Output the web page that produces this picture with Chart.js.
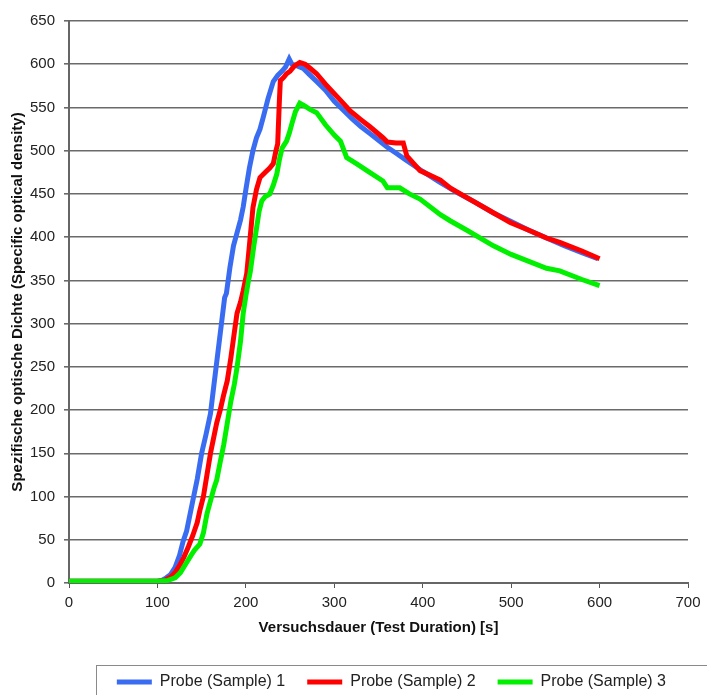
<!DOCTYPE html>
<html>
<head>
<meta charset="utf-8">
<script src="https://cdn.jsdelivr.net/npm/chart.js@4/dist/chart.umd.min.js"></script>
<style>
  html, body { margin: 0; padding: 0; background: #fff; }
  #wrap { width: 707px; height: 695px; }
</style>
</head>
<body>
<div id="wrap"><canvas id="Chart" width="707" height="695"></canvas></div>
<script>
// series labels
var seriesNames = ['Probe (Sample) 1', 'Probe (Sample) 2', 'Probe (Sample) 3'];

// Probe 1 (blue)
var time1 = [0, 50, 100, 105, 110, 115, 120, 125, 129, 133, 140, 145, 150, 155, 160, 164, 167, 170, 173, 176, 178, 182, 186, 190, 194, 197, 200, 204, 208, 212, 216, 220, 225, 231, 236, 241, 245, 249, 252, 258, 265, 272, 280, 290, 300, 310, 320, 330, 340, 350, 360, 370, 380, 400, 420, 440, 460, 480, 500, 520, 540, 560, 580, 598];
var value1 = [2, 2, 2, 3, 6, 10, 18, 32, 48, 60, 95, 120, 150, 172, 196, 230, 255, 280, 305, 330, 335, 365, 390, 405, 420, 435, 455, 480, 500, 515, 525, 540, 560, 580, 587, 592, 597, 606, 600, 598, 595, 588, 580, 570, 557, 547, 537, 528, 520, 512, 504, 497, 490, 476, 463, 451, 440, 428, 418, 408, 399, 390, 382, 375];

// Probe 2 (red)
var time2 = [0, 100, 108, 115, 120, 125, 130, 135, 140, 145, 148, 152, 156, 160, 164, 167, 171, 175, 179, 183, 187, 190, 194, 197, 201, 204, 208, 212, 216, 222, 227, 231, 234, 236, 238, 239, 243, 246, 250, 255, 261, 267, 273, 280, 290, 300, 310, 318, 330, 340, 355, 360, 370, 378, 382, 397, 420, 431, 446, 470, 499, 520, 540, 555, 580, 600];
var value2 = [2, 2, 3, 7, 12, 20, 30, 42, 55, 70, 84, 100, 125, 150, 170, 185, 200, 218, 234, 260, 290, 312, 325, 338, 358, 390, 434, 455, 469, 475, 480, 485, 500, 508, 560, 581, 585, 589, 592, 598, 602, 600, 595, 589, 577, 566, 555, 546, 536, 528, 515, 510, 509, 509, 494, 477, 466, 457, 448, 434, 417, 408, 399, 394, 384, 375];

// Probe 3 (green)
var time3 = [0, 100, 112, 120, 126, 132, 138, 142, 148, 152, 156, 160, 164, 167, 171, 175, 179, 183, 187, 190, 194, 197, 200, 203, 205, 209, 212, 215, 218, 222, 227, 231, 235, 238, 241, 246, 249, 252, 256, 261, 266, 272, 280, 290, 300, 307, 310, 314, 325, 340, 355, 360, 374, 385, 397, 420, 431, 450, 480, 500, 520, 540, 555, 580, 600];
var value3 = [2, 2, 3, 6, 12, 22, 32, 38, 45, 58, 80, 95, 110, 119, 140, 160, 185, 210, 230, 249, 280, 312, 332, 350, 360, 390, 410, 430, 442, 447, 450, 460, 473, 490, 503, 511, 520, 531, 545, 555, 552, 548, 544, 530, 518, 511, 503, 492, 485, 475, 465, 457, 457, 450, 444, 426, 419, 408, 390, 380, 372, 364, 361, 351, 344];

// axis ticks
var xTicks = [0, 100, 200, 300, 400, 500, 600, 700];
var yTicks = [0, 50, 100, 150, 200, 250, 300, 350, 400, 450, 500, 550, 600, 650];

var lineColors = ['#3a6cf2', '#ff0000', '#00f000'];

function toPoints(xs, ys) {
    return xs.map(function (x, i) { return { x: x, y: ys[i] }; });
}

var legendFrame = {
    id: 'legendFrame',
    afterDraw: function (chart) {
        var boxes = chart.legend && chart.legend.legendHitBoxes;
        if (!boxes || !boxes.length) return;
        var ctx = chart.ctx;
        var cy = boxes[0].top + boxes[0].height / 2;
        ctx.save();
        ctx.strokeStyle = '#8a8a8a';
        ctx.lineWidth = 1;
        ctx.strokeRect(Math.round(boxes[0].left - 21) + 0.5, Math.round(cy - 17) + 0.5, chart.width, 80);
        ctx.restore();
    }
};

var font = "'Liberation Sans', Arial, sans-serif";
Chart.defaults.font.family = font;
Chart.defaults.color = '#222';

var datasets = [
    { label: seriesNames[0], data: toPoints(time1, value1), order: 3 },
    { label: seriesNames[1], data: toPoints(time2, value2), order: 2 },
    { label: seriesNames[2], data: toPoints(time3, value3), order: 1 }
].map(function (d, i) {
    d.borderColor = lineColors[i];
    d.backgroundColor = lineColors[i];
    d.borderWidth = 5;
    d.pointRadius = 0;
    d.tension = 0;
    d.fill = false;
    return d;
});

new Chart(document.getElementById('Chart').getContext('2d'), {
    type: 'line',
    data: { datasets: datasets },
    options: {
        responsive: false,
        animation: false,
        layout: { padding: { top: 21, right: 19, left: 0, bottom: -5 } },
        scales: {
            x: {
                type: 'linear',
                min: 0,
                max: 700,
                afterBuildTicks: function (s) { s.ticks = xTicks.map(function (v) { return { value: v }; }); },
                afterFit: function (s) { s.height = 69; },
                ticks: { font: { size: 15 }, color: '#222', padding: 6, maxRotation: 0 },
                grid: { drawOnChartArea: false, drawTicks: true, tickLength: 5, color: '#555', lineWidth: 1 },
                border: { color: '#666', width: 2 },
                title: {
                    display: true,
                    text: 'Versuchsdauer (Test Duration) [s]',
                    font: { size: 15, weight: 'bold' },
                    color: '#111',
                    padding: { top: 4, bottom: 15 }
                }
            },
            y: {
                min: 0,
                max: 650,
                afterBuildTicks: function (s) { s.ticks = yTicks.map(function (v) { return { value: v }; }); },
                afterFit: function (s) { s.width = 69; },
                ticks: { font: { size: 15 }, color: '#222', padding: 9 },
                grid: { color: '#6a6a6a', lineWidth: 1.6, tickLength: 5 },
                border: { color: '#666', width: 2 },
                title: {
                    display: true,
                    text: 'Spezifische optische Dichte (Specific optical density)',
                    font: { size: 15, weight: 'bold' },
                    color: '#111',
                    padding: { top: 9, bottom: 0 }
                }
            }
        },
        plugins: {
            legend: {
                position: 'bottom',
                align: 'end',
                onClick: function () {},
                labels: {
                    usePointStyle: true,
                    pointStyle: 'line',
                    pointStyleWidth: 35,
                    padding: 22,
                    font: { size: 16 },
                    color: '#222',
                    sort: function (a, b) { return a.datasetIndex - b.datasetIndex; }
                }
            },
            tooltip: { enabled: false }
        }
    },
    plugins: [legendFrame]
});
</script>
</body>
</html>
